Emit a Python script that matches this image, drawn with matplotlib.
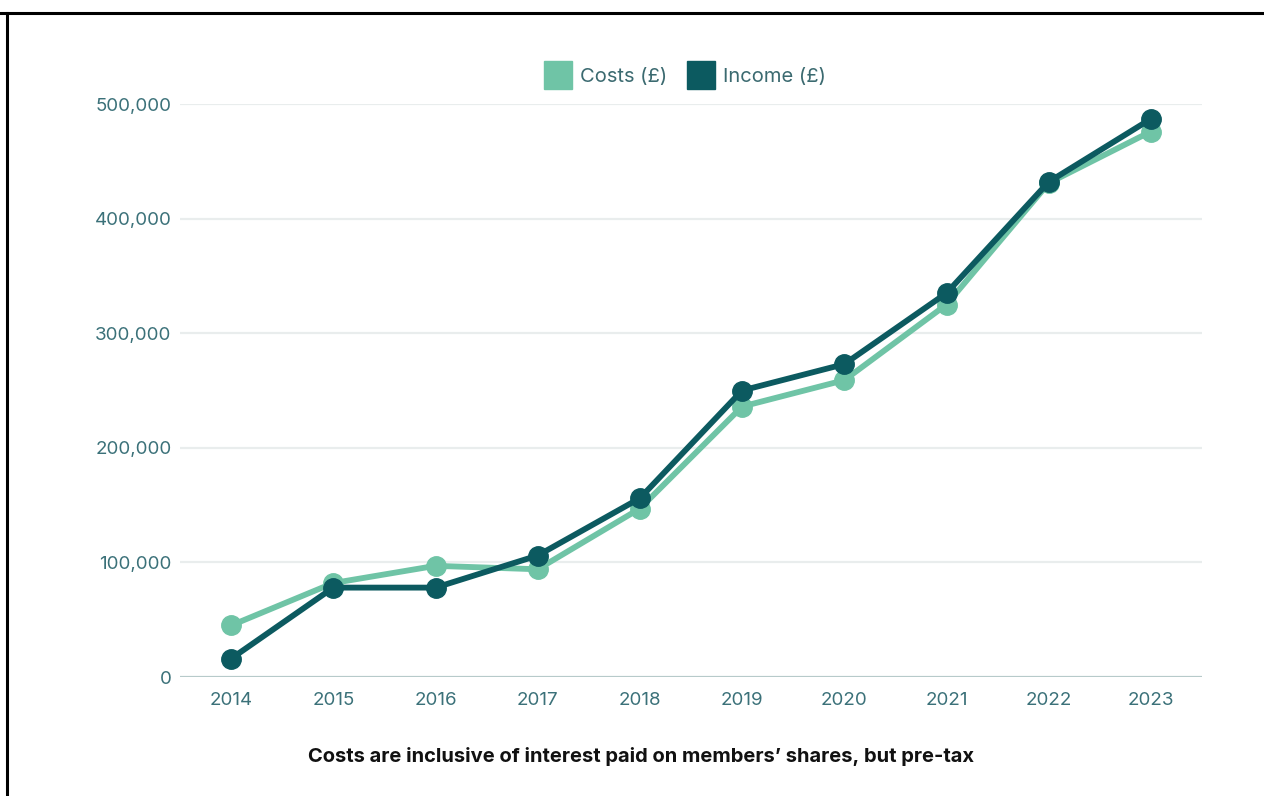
import matplotlib
matplotlib.use("Agg")
import matplotlib.pyplot as plt
from matplotlib.lines import Line2D

years = [2014, 2015, 2016, 2017, 2018, 2019, 2020, 2021, 2022, 2023]
costs = [45000, 82000, 97000, 94000, 147000, 236000, 259000, 325000, 431000, 476000]
income = [16000, 78000, 78000, 106000, 156000, 250000, 273000, 335000, 432000, 487000]
yticks = [0, 100000, 200000, 300000, 400000, 500000]
ytick_labels = ["0", "100,000", "200,000", "300,000", "400,000", "500,000"]
series_names = ["Costs (£)", "Income (£)"]
caption = "Costs are inclusive of interest paid on members\u2019 shares, but pre-tax"

c_costs = "#6fc4a6"
c_income = "#0c5a60"
tick_col = "#3b7179"

plt.rcParams['font.family'] = ['Inter', 'DejaVu Sans']

fig = plt.figure(figsize=(12.64, 7.96), dpi=100)
ax = fig.add_axes([180/1264, 1-677/796, (1202-180)/1264, (677-104)/796])

ax.plot(years, costs, color=c_costs, lw=4.2, marker='o', ms=14, clip_on=False, zorder=3, label=series_names[0])
ax.plot(years, income, color=c_income, lw=4.2, marker='o', ms=14, clip_on=False, zorder=4, label=series_names[1])

ax.set_xlim(2013.5, 2023.5)
ax.set_ylim(0, 500000)
ax.set_xticks(years)
ax.set_xticklabels([str(y) for y in years])
ax.set_yticks(yticks)
ax.set_yticklabels(ytick_labels)
for s in ax.spines.values():
    s.set_visible(False)
ax.tick_params(axis='both', length=0, labelsize=13.5, colors=tick_col)
ax.tick_params(axis='x', pad=11)
ax.tick_params(axis='y', pad=6)
for yv in yticks[1:]:
    ax.axhline(yv, color="#e9eded", lw=1.6, zorder=1)
ax.axhline(0, color="#b7caca", lw=1.6, zorder=1)

handles = [Line2D([], [], ls='none', marker='s', ms=20, color=c_costs),
           Line2D([], [], ls='none', marker='s', ms=20, color=c_income)]
leg = fig.legend(handles, series_names, loc='center', bbox_to_anchor=(686/1264, 1-77/796), ncol=2,
                 frameon=False, fontsize=14.5, labelcolor="#3b6a70", handletextpad=0.5,
                 columnspacing=1.1, handlelength=1.2)

fig.text(641/1264, 1-756/796, caption, ha='center', va='center', fontsize=14.5,
         fontweight='bold', color='#111111')

# partial frame border (top and left)
fig.add_artist(Line2D([0, 1], [1-13/796, 1-13/796], transform=fig.transFigure, color='black', lw=2.2))
fig.add_artist(Line2D([7/1264, 7/1264], [0, 1-13/796], transform=fig.transFigure, color='black', lw=2.2))

fig.savefig("out.png", dpi=100, facecolor='white')
